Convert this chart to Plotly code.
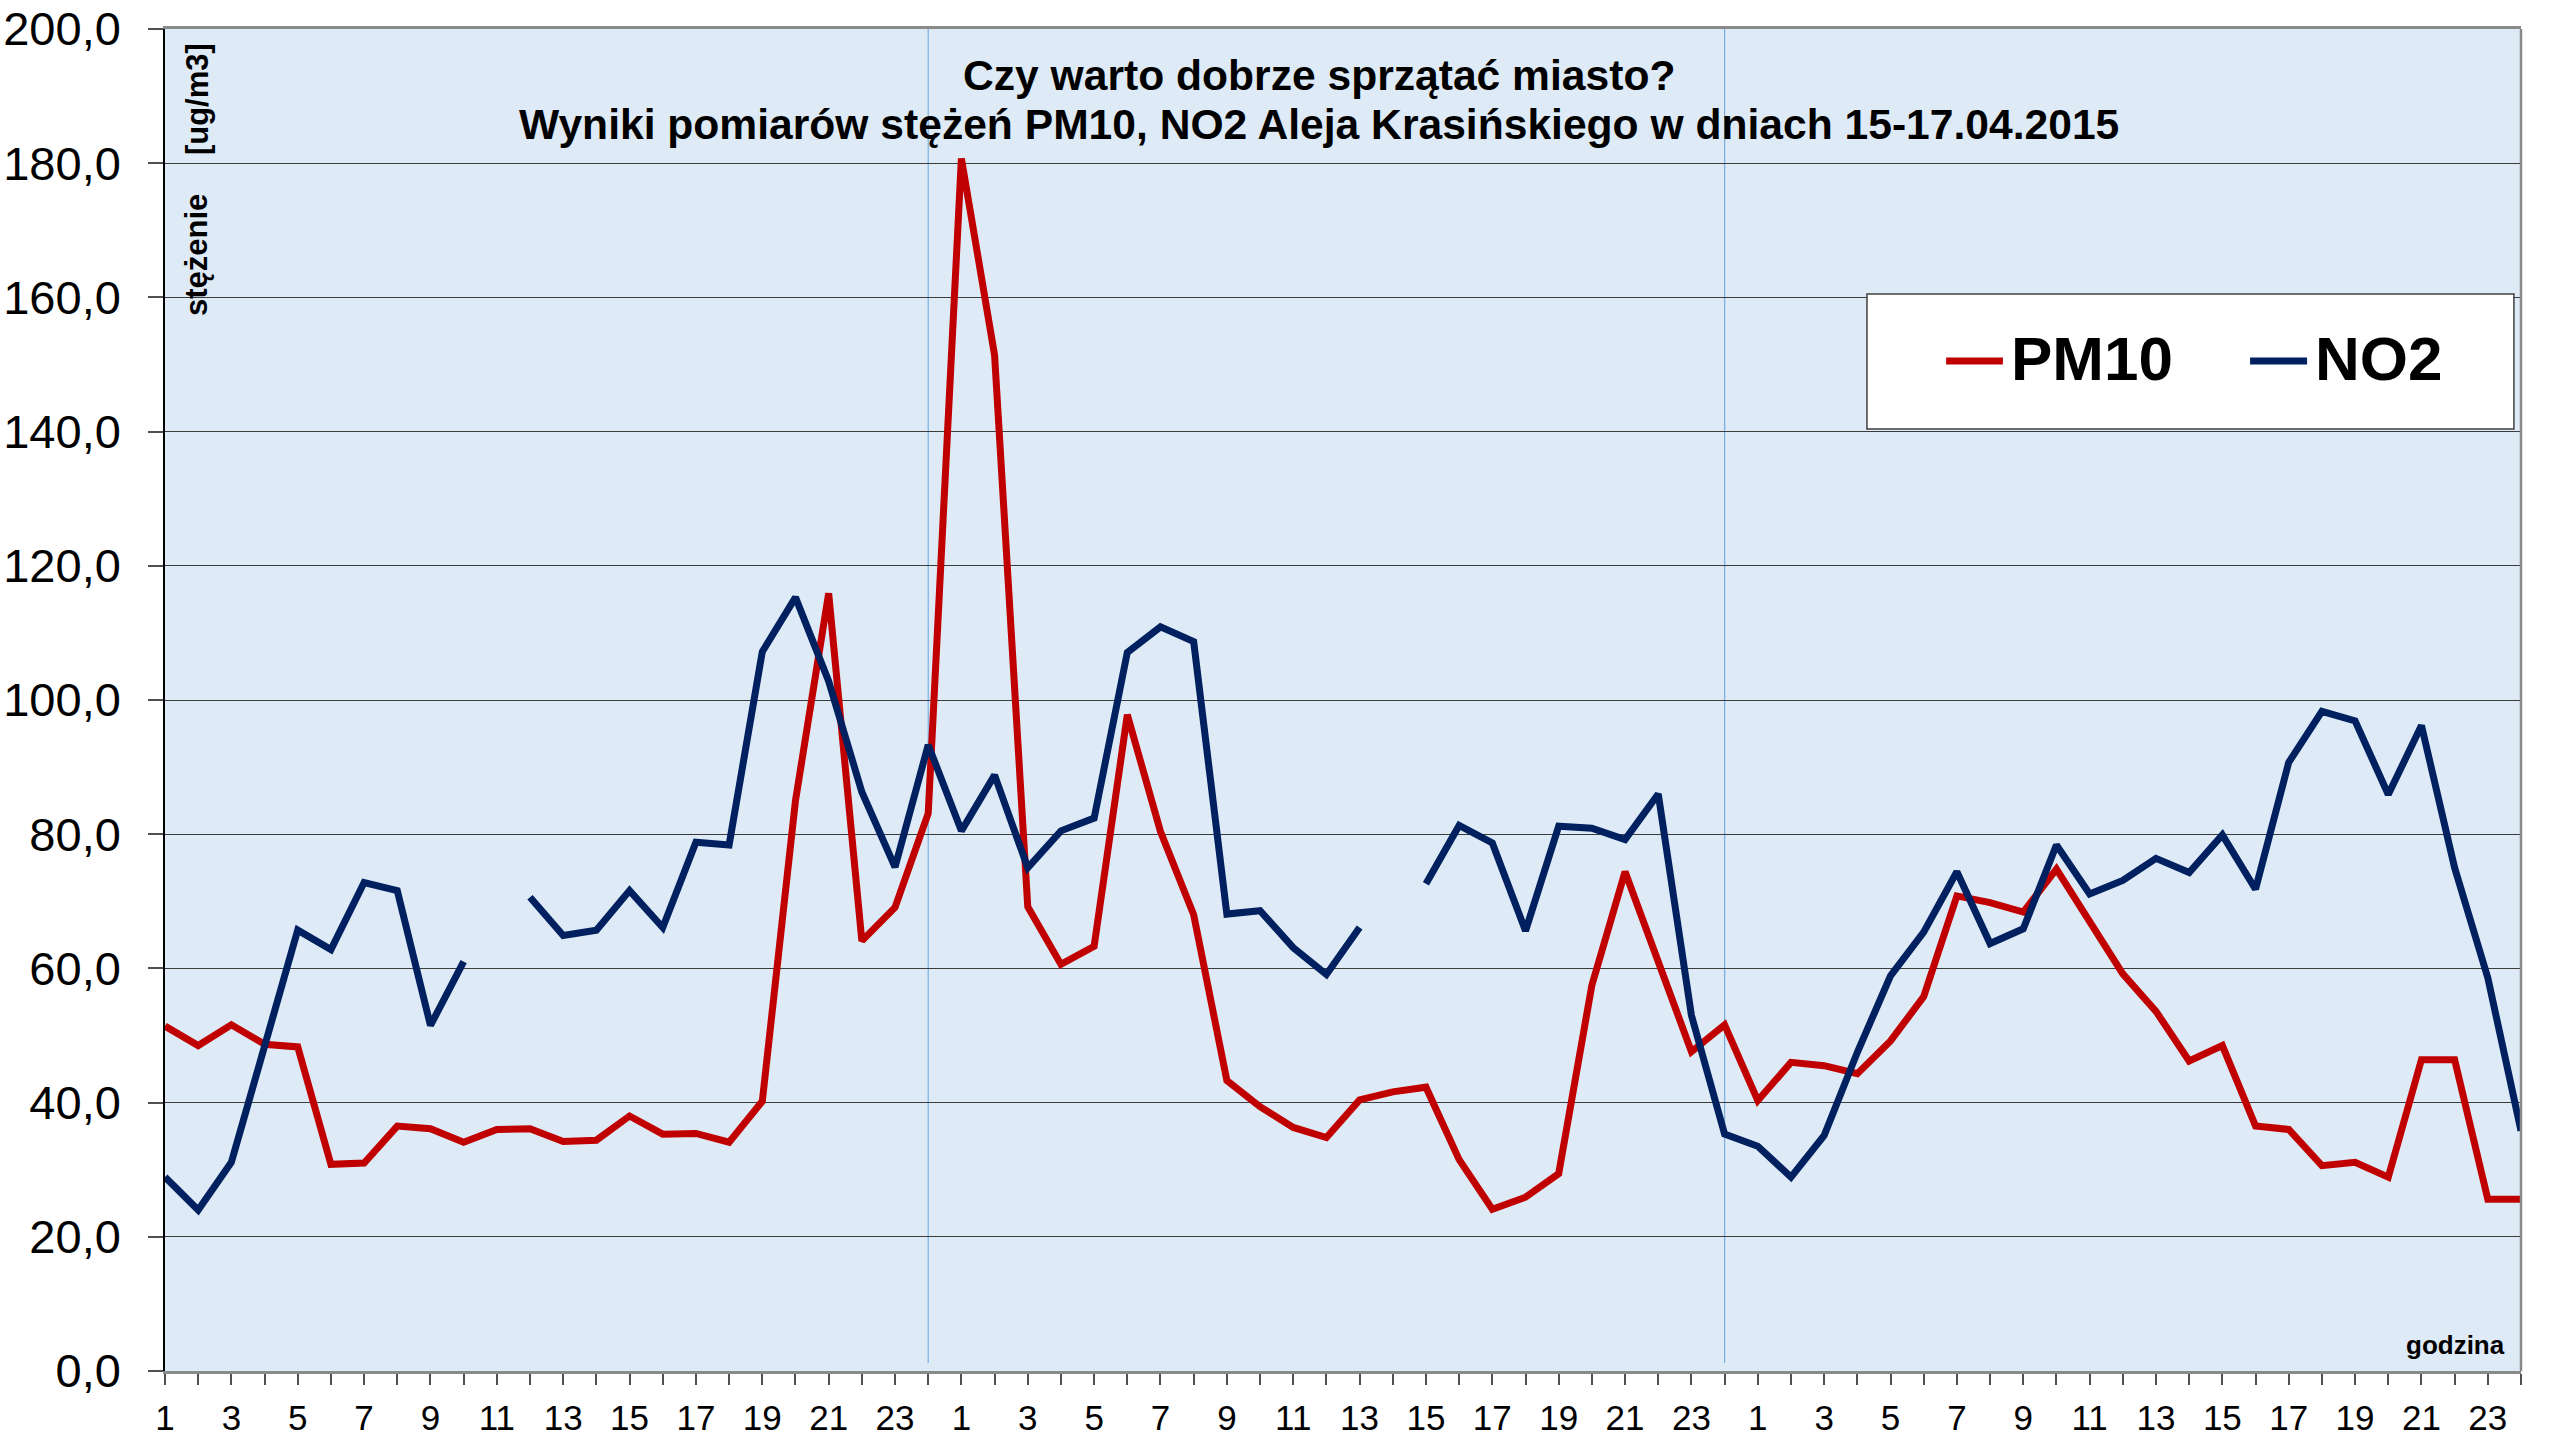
import plotly.graph_objects as go

# ---- data ----
hours = list(range(1, 25)) * 3          # category labels (3 days x 24 h)
x_idx = list(range(1, 73))              # category positions
tick_labels = [str(h) if h % 2 == 1 else "" for h in hours]

pm10 = [51.4, 48.5, 51.6, 48.7, 48.3, 30.8, 31.0, 36.5, 36.1, 34.1, 36.0, 36.1,
        34.2, 34.4, 38.0, 35.3, 35.4, 34.1, 40.2, 85.0, 115.9, 64.1, 69.1, 83.1,
        180.7, 151.4, 69.2, 60.6, 63.3, 97.8, 80.4, 68.0, 43.3, 39.4, 36.3, 34.8,
        40.4, 41.6, 42.3, 31.5, 24.1, 25.9, 29.4, 57.5, 74.4, 60.8, 47.6, 51.6,
        40.3, 46.0, 45.5, 44.3, 49.2, 55.8, 70.8, 69.8, 68.4, 74.8, 67.0, 59.2,
        53.6, 46.2, 48.5, 36.5, 36.0, 30.6, 31.1, 28.9, 46.4, 46.4, 25.6, 25.6]

no2 = [28.9, 24.0, 31.1, 48.5, 65.7, 62.8, 72.8, 71.6, 51.5, 61.0, None, 70.6,
       64.9, 65.7, 71.6, 66.1, 78.8, 78.4, 107.2, 115.3, 102.8, 86.3, 75.1, 93.3,
       80.5, 88.8, 75.0, 80.5, 82.4, 107.1, 110.9, 108.7, 68.1, 68.6, 63.1, 59.1,
       66.1, None, 72.6, 81.3, 78.7, 65.6, 81.2, 80.9, 79.2, 86.0, 53.0, 35.3,
       33.5, 28.9, 35.1, 47.5, 58.9, 65.4, 74.4, 63.7, 65.9, 78.4, 71.1, 73.1,
       76.4, 74.3, 79.9, 71.8, 90.7, 98.3, 96.9, 85.9, 96.2, 75.0, 58.6, 35.8]

day_ends = [24, 48]                     # hour 24 of day 1 and day 2

series_names = ["PM10", "NO2"]
title_line1 = "Czy warto dobrze sprzątać miasto?"
title_line2 = "Wyniki pomiarów stężeń PM10, NO2 Aleja Krasińskiego w dniach 15-17.04.2015"

# ---- style ----
FONT = "Arial, 'Liberation Sans', sans-serif"
RED = "#C00000"
BLUE = "#002060"

fig = go.Figure()
fig.add_trace(go.Scatter(x=x_idx, y=pm10, mode="lines", name=series_names[0],
                         line=dict(color=RED, width=7), connectgaps=False))
fig.add_trace(go.Scatter(x=x_idx, y=no2, mode="lines", name=series_names[1],
                         line=dict(color=BLUE, width=7), connectgaps=False))

shapes = []
for d in day_ends:
    shapes.append(dict(type="line", xref="x", yref="y", x0=d, x1=d, y0=1.2, y1=200,
                       line=dict(color="#7AAEE0", width=1.2), layer="below"))
# right border of plot area
shapes.append(dict(type="line", xref="paper", yref="paper", x0=1, x1=1, y0=0, y1=1,
                   line=dict(color="#8a8a8a", width=2.5)))
# custom legend box
shapes.append(dict(type="rect", xref="paper", yref="paper", x0=0.7224, x1=0.9970,
                   y0=0.7019, y1=0.8025, fillcolor="white",
                   line=dict(color="#404040", width=1.5)))
shapes.append(dict(type="line", xref="paper", yref="paper", x0=0.7560, x1=0.7801,
                   y0=0.7526, y1=0.7526, line=dict(color=RED, width=7)))
shapes.append(dict(type="line", xref="paper", yref="paper", x0=0.8850, x1=0.9092,
                   y0=0.7526, y1=0.7526, line=dict(color=BLUE, width=7)))

annotations = [
    dict(text="<b>" + title_line1 + "</b>", xref="paper", yref="paper", x=0.4898, y=0.9657,
         xanchor="center", yanchor="middle", showarrow=False,
         font=dict(family=FONT, size=42.6, color="black")),
    dict(text="<b>" + title_line2 + "</b>", xref="paper", yref="paper", x=0.4898, y=0.9292,
         xanchor="center", yanchor="middle", showarrow=False,
         font=dict(family=FONT, size=42.6, color="black")),
    dict(text="<b>[ug/m3]</b>", xref="paper", yref="paper", x=0.0136, y=0.9478,
         xanchor="center", yanchor="middle", textangle=-90, showarrow=False,
         font=dict(family=FONT, size=31, color="black")),
    dict(text="<b>stężenie</b>", xref="paper", yref="paper", x=0.0136, y=0.8316,
         xanchor="center", yanchor="middle", textangle=-90, showarrow=False,
         font=dict(family=FONT, size=31, color="black")),
    dict(text="<b>godzina</b>", xref="paper", yref="paper", x=0.972, y=0.0194,
         xanchor="center", yanchor="middle", showarrow=False,
         font=dict(family=FONT, size=26, color="black")),
    dict(text="<b>" + series_names[0] + "</b>", xref="paper", yref="paper", x=0.7827, y=0.7541,
         xanchor="left", yanchor="middle", showarrow=False,
         font=dict(family=FONT, size=62, color="black")),
    dict(text="<b>" + series_names[1] + "</b>", xref="paper", yref="paper", x=0.9117, y=0.7541,
         xanchor="left", yanchor="middle", showarrow=False,
         font=dict(family=FONT, size=62, color="black")),
]

fig.update_layout(
    width=2552, height=1440,
    margin=dict(l=165, r=31, t=29, b=69),
    paper_bgcolor="white", plot_bgcolor="#DEEAF6",
    separators=",.",
    showlegend=False,
    font=dict(family=FONT, color="black"),
    shapes=shapes, annotations=annotations,
    xaxis=dict(range=[1, 72], tickmode="array", tickvals=x_idx, ticktext=tick_labels,
               ticks="outside", ticklen=11, tickwidth=1.5, tickcolor="#505050",
               showgrid=False, zeroline=False, showline=True, linecolor="#8a8a8a",
               linewidth=2.5, mirror=True, tickfont=dict(size=35, family=FONT),
               ticklabelstandoff=3, automargin=False, ticklabeloverflow="allow"),
    yaxis=dict(range=[0, 200], dtick=20, tick0=0, tickformat=".1f",
               ticks="outside", ticklen=15, tickwidth=1.5, tickcolor="#505050",
               showgrid=True, gridcolor="#3c3c3c", gridwidth=1.2, zeroline=False,
               showline=True, linecolor="black", linewidth=1.5,
               tickfont=dict(size=47, family=FONT), ticklabelstandoff=18,
               automargin=False, ticklabeloverflow="allow"),
)

# remove the browser's default 8px page margin so the figure fills the window exactly
fig.write_html("out.html",
               config={"displayModeBar": False},
               post_script="document.body.style.margin='0';"
                           "document.body.style.overflow='hidden';")
